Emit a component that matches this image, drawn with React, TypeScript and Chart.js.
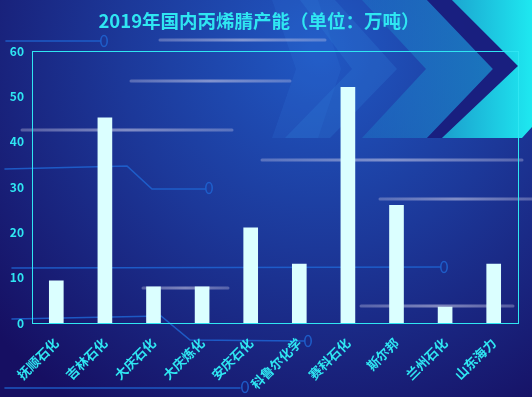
import React, { useEffect, useRef } from "react";
import { Chart, registerables } from "chart.js";

Chart.register(...registerables);

const categories = ["抚顺石化", "吉林石化", "大庆石化", "大庆炼化", "安庆石化", "科鲁尔化学", "赛科石化", "斯尔邦", "兰州石化", "山东海力"];
const capacity = [9.3, 45.3, 8, 8, 21, 13, 52, 26, 3.5, 13];
const yMin = 0;
const yMax = 60;
const yStep = 10;
const titleText = "2019年国内丙烯腈产能（单位：万吨）";

const CYAN = "#2fe6f2";
const FONT = "'Noto Sans CJK SC', 'Noto Sans', sans-serif";

function grayLine(ctx: CanvasRenderingContext2D, x1: number, x2: number, y: number) {
  const g = ctx.createLinearGradient(x1, 0, x2, 0);
  g.addColorStop(0, "rgba(200,200,230,0.35)");
  g.addColorStop(0.5, "rgba(210,210,235,0.55)");
  g.addColorStop(1, "rgba(200,200,230,0.35)");
  ctx.strokeStyle = g;
  ctx.lineWidth = 3;
  ctx.lineCap = "round";
  ctx.beginPath();
  ctx.moveTo(x1, y);
  ctx.lineTo(x2, y);
  ctx.stroke();
}

function bluePath(ctx: CanvasRenderingContext2D, pts: number[][], ex: number, ey: number) {
  ctx.strokeStyle = "rgba(30,100,210,0.85)";
  ctx.lineWidth = 1.6;
  ctx.lineCap = "round";
  ctx.beginPath();
  ctx.moveTo(pts[0][0], pts[0][1]);
  for (let i = 1; i < pts.length; i++) ctx.lineTo(pts[i][0], pts[i][1]);
  ctx.stroke();
  ctx.beginPath();
  ctx.ellipse(ex, ey, 3.2, 5.5, 0, 0, Math.PI * 2);
  ctx.stroke();
}

function poly(ctx: CanvasRenderingContext2D, pts: number[][], fill: string | CanvasGradient) {
  ctx.fillStyle = fill;
  ctx.beginPath();
  ctx.moveTo(pts[0][0], pts[0][1]);
  for (let i = 1; i < pts.length; i++) ctx.lineTo(pts[i][0], pts[i][1]);
  ctx.closePath();
  ctx.fill();
}

const bgPlugin = {
  id: "bgDecor",
  beforeDraw(chart: any) {
    const ctx: CanvasRenderingContext2D = chart.ctx;
    const w = chart.width;
    const h = chart.height;
    ctx.save();
    const g = ctx.createRadialGradient(320, 50, 10, 320, 50, 430);
    g.addColorStop(0, "#2057c2");
    g.addColorStop(0.45, "#1c3899");
    g.addColorStop(1, "#160f62");
    ctx.fillStyle = g;
    ctx.fillRect(0, 0, w, h);

    // chevrons
    poly(ctx, [[272, 0], [318, 0], [341, 69], [318, 138], [272, 138], [296, 69]], "rgba(50,120,220,0.18)");
    poly(ctx, [[300, 0], [335, 0], [397, 69], [330, 138], [285, 138], [352, 69]], "rgba(45,125,215,0.28)");
    const g3 = ctx.createLinearGradient(360, 0, 500, 0);
    g3.addColorStop(0, "rgba(30,120,200,0.45)");
    g3.addColorStop(1, "rgba(25,140,200,0.75)");
    poly(ctx, [[362, 0], [427, 0], [493, 69], [427, 138], [362, 138], [426, 69]], g3);
    poly(ctx, [[427, 0], [452, 0], [518, 66], [442, 138], [427, 138], [493, 69]], "rgba(25,30,125,0.95)");
    const gc = ctx.createLinearGradient(440, 0, 532, 0);
    gc.addColorStop(0, "#1b9ccc");
    gc.addColorStop(1, "#1ee8f0");
    poly(ctx, [[452, 0], [532, 0], [532, 127], [522, 138], [442, 138], [518, 66]], gc);

    // gray glow lines
    grayLine(ctx, 160, 325, 40);
    grayLine(ctx, 131, 290, 81);
    grayLine(ctx, 22, 232, 130);
    grayLine(ctx, 262, 522, 160);
    grayLine(ctx, 380, 532, 199);
    grayLine(ctx, 143, 228, 288);
    grayLine(ctx, 361, 513, 306);

    // blue circuit lines
    bluePath(ctx, [[6, 41], [100, 41]], 104, 41);
    bluePath(ctx, [[5, 169], [127, 166], [152, 189], [205, 189]], 209, 188);
    bluePath(ctx, [[12, 268], [440, 267]], 444, 267);
    bluePath(ctx, [[12, 319], [161, 316], [190, 340], [304, 341]], 308, 341);
    bluePath(ctx, [[5, 388], [240, 388]], 245, 387);
    ctx.restore();
  },
  afterDatasetsDraw(chart: any) {
    const ctx: CanvasRenderingContext2D = chart.ctx;
    const a = chart.chartArea;
    ctx.save();
    ctx.strokeStyle = CYAN;
    ctx.lineWidth = 1;
    ctx.strokeRect(Math.round(a.left) + 0.5, Math.round(a.top) + 0.5, Math.round(a.right - a.left), Math.round(a.bottom - a.top));
    ctx.restore();
  },
};

export default function App() {
  const ref = useRef<HTMLCanvasElement | null>(null);
  useEffect(() => {
    document.body.style.margin = "0";
    const canvas = ref.current;
    if (!canvas) return;
    const chart = new Chart(canvas, {
      type: "bar",
      data: {
        labels: categories,
        datasets: [
          {
            data: capacity,
            backgroundColor: "#dbffff",
            barThickness: 14,
          },
        ],
      },
      options: {
        responsive: false,
        animation: false,
        layout: { padding: { left: 0, right: 14, top: 0, bottom: 0 } },
        plugins: {
          legend: { display: false },
          tooltip: { enabled: false },
          title: {
            display: true,
            text: titleText,
            color: CYAN,
            font: { family: FONT, size: 18.5, weight: "bold" },
            padding: { top: 10, bottom: 19 },
          },
        },
        scales: {
          x: {
            grid: { display: false },
            border: { display: false },
            ticks: {
              color: CYAN,
              font: { family: FONT, size: 13, weight: "bold" },
              minRotation: 45,
              maxRotation: 45,
              autoSkip: false,
              padding: 4,
            },
            afterFit(scale: any) {
              scale.height = 74;
            },
          },
          y: {
            min: yMin,
            max: yMax,
            grid: { display: false, drawTicks: false },
            border: { display: false },
            ticks: {
              stepSize: yStep,
              color: CYAN,
              font: { family: FONT, size: 12, weight: "bold" },
              padding: 8,
            },
            afterFit(scale: any) {
              scale.width = 32;
            },
          },
        },
      },
      plugins: [bgPlugin],
    });
    return () => chart.destroy();
  }, []);
  return (
    <div style={{ width: 532, height: 397 }}>
      <canvas ref={ref} width={532} height={397} style={{ display: "block" }} />
    </div>
  );
}
